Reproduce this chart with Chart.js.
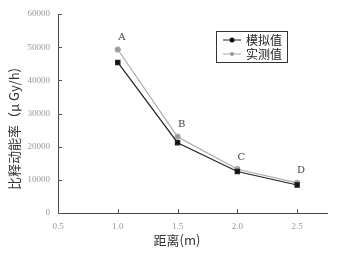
<!DOCTYPE html>
<html>
<head>
<meta charset="utf-8">
<script src="https://cdn.jsdelivr.net/npm/chart.js@4/dist/chart.umd.min.js"></script>
<style>
  html, body { margin: 0; padding: 0; background: #fff; }
  #wrap { width: 341px; height: 255px; }
</style>
</head>
<body>
<div id="wrap"><canvas id="chart"></canvas></div>
<script>
const distances = [1.0, 1.5, 2.0, 2.5];
const simulated = [45400, 21200, 12500, 8450];
const measured = [49300, 23000, 13200, 9100];
const pointLabels = ['A', 'B', 'C', 'D'];
const seriesNames = ['模拟值', '实测值'];
const xTicks = [0.5, 1.0, 1.5, 2.0, 2.5];
const xTitle = '距离(m)';
const yTitle = '比释动能率（μ Gy/h)';

const tickFont = { family: '"Liberation Serif", serif', size: 9 };
const cjkFont = '"Noto Sans CJK SC", sans-serif';

// small ticks drawn inside the plot, like the original
const innerTicks = {
  id: 'innerTicks',
  afterDraw(chart) {
    const ctx = chart.ctx;
    const x = chart.scales.x;
    const y = chart.scales.y;
    ctx.save();
    ctx.strokeStyle = '#555';
    ctx.lineWidth = 1;
    ctx.beginPath();
    x.ticks.forEach((t) => {
      const px = Math.round(x.getPixelForValue(t.value)) + 0.5;
      ctx.moveTo(px, y.bottom);
      ctx.lineTo(px, y.bottom - 4);
    });
    y.ticks.forEach((t) => {
      const py = Math.round(y.getPixelForValue(t.value)) + 0.5;
      ctx.moveTo(x.left, py);
      ctx.lineTo(x.left + 4, py);
    });
    ctx.stroke();
    ctx.restore();
  },
};

// axis titles sit a bit off-centre in the original
const axisTitles = {
  id: 'axisTitles',
  afterDraw(chart) {
    const ctx = chart.ctx;
    ctx.save();
    ctx.fillStyle = '#333';
    ctx.font = '13px ' + cjkFont;
    ctx.textAlign = 'center';
    ctx.textBaseline = 'middle';
    ctx.fillText(xTitle, 177, 240);
    ctx.translate(14, 129);
    ctx.rotate(-Math.PI / 2);
    ctx.fillText(yTitle, 0, 0);
    ctx.restore();
  },
};

const letters = {
  id: 'letters',
  afterDatasetsDraw(chart) {
    const ctx = chart.ctx;
    const meta = chart.getDatasetMeta(1);
    ctx.save();
    ctx.fillStyle = '#444';
    ctx.font = '10px "DejaVu Serif", serif';
    ctx.textAlign = 'center';
    ctx.textBaseline = 'bottom';
    meta.data.forEach((pt, i) => {
      ctx.fillText(pointLabels[i], pt.x + 4, pt.y - 7);
    });
    ctx.restore();
  },
};

const boxLegend = {
  id: 'boxLegend',
  afterDraw(chart) {
    const ctx = chart.ctx;
    const left = 216, top = 31, w = 71, h = 31;
    ctx.save();
    ctx.strokeStyle = '#333';
    ctx.lineWidth = 1;
    ctx.strokeRect(left + 0.5, top + 0.5, w, h);
    chart.data.datasets.forEach((ds, i) => {
      const cy = top + 9 + i * 14;
      ctx.strokeStyle = ds.borderColor;
      ctx.lineWidth = 1;
      ctx.beginPath();
      ctx.moveTo(left + 7, cy);
      ctx.lineTo(left + 25, cy);
      ctx.stroke();
      ctx.fillStyle = ds.backgroundColor;
      ctx.beginPath();
      ctx.arc(left + 16, cy, i === 0 ? 2.5 : 2, 0, Math.PI * 2);
      ctx.fill();
      ctx.fillStyle = '#222';
      ctx.font = '12px ' + cjkFont;
      ctx.textBaseline = 'middle';
      ctx.fillText(ds.label, left + 30, cy);
    });
    ctx.restore();
  },
};

new Chart(document.getElementById('chart'), {
  type: 'line',
  data: {
    datasets: [
      {
        label: seriesNames[0],
        data: distances.map((d, i) => ({ x: d, y: simulated[i] })),
        borderColor: '#222',
        backgroundColor: '#111',
        borderWidth: 1.2,
        pointStyle: 'rect',
        pointRadius: 3,
        tension: 0,
      },
      {
        label: seriesNames[1],
        data: distances.map((d, i) => ({ x: d, y: measured[i] })),
        borderColor: '#aaa',
        backgroundColor: '#999',
        borderWidth: 1.2,
        pointStyle: 'circle',
        pointRadius: 2.5,
        tension: 0,
      },
    ],
  },
  options: {
    responsive: true,
    maintainAspectRatio: false,
    animation: false,
    layout: { padding: { left: 0, right: 14, top: 14, bottom: 0 } },
    plugins: {
      legend: { display: false },
      tooltip: { enabled: false },
    },
    scales: {
      x: {
        type: 'linear',
        min: 0.5,
        max: 2.75,
        afterBuildTicks(scale) {
          scale.ticks = xTicks.map((v) => ({ value: v }));
        },
        afterFit(scale) {
          scale.height = 42;
        },
        border: { color: '#444', width: 1 },
        grid: { display: false, drawTicks: false },
        ticks: {
          color: '#999',
          font: tickFont,
          padding: 8,
          callback: (v) => Number(v).toFixed(1),
        },
      },
      y: {
        min: 0,
        max: 60000,
        afterFit(scale) {
          scale.width = 58;
        },
        border: { color: '#444', width: 1 },
        grid: { display: false, drawTicks: false },
        ticks: {
          stepSize: 10000,
          color: '#999',
          font: tickFont,
          padding: 8,
          callback: (v) => String(v),
        },
      },
    },
  },
  plugins: [innerTicks, letters, boxLegend, axisTitles],
});
</script>
</body>
</html>
